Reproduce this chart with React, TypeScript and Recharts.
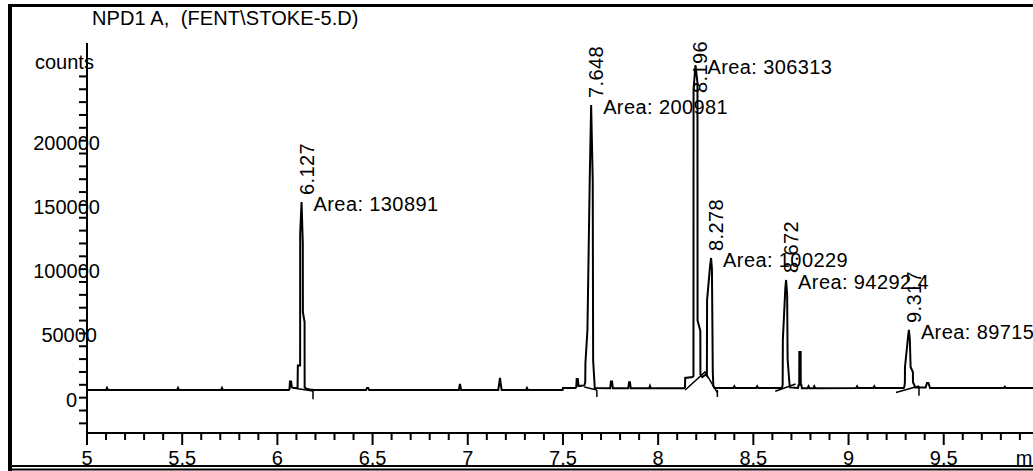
import { ComposedChart, Line, Scatter, XAxis, YAxis } from "recharts";

const FONT = "'Liberation Sans', Arial, sans-serif";
const PLOT_TOP = 43;
const PLOT_LEFT = 87;

// detector trace, [time (min), counts]
const trace: Array<[number, number]> = [
  [5.0, 6000],
  [5.1, 6000], [5.105, 7600], [5.11, 6000],
  [5.473, 6000], [5.478, 7600], [5.483, 6000],
  [5.704, 6000], [5.709, 7600], [5.714, 6000],
  [6.06, 6000], [6.064, 6800], [6.066, 12500], [6.072, 12500], [6.076, 8000], [6.085, 7500],
  [6.106, 7500], [6.1075, 25000], [6.1195, 25000], [6.1198, 128000], [6.127, 152300], [6.1335, 120000],
  [6.134, 66600], [6.1428, 58900], [6.1432, 8000], [6.152, 7000], [6.17, 6300], [6.195, 6000],
  [6.466, 6000], [6.471, 7600], [6.477, 7600], [6.482, 6000],
  [6.953, 6000], [6.959, 10600], [6.965, 6000],
  [7.16, 6000], [7.165, 11000], [7.169, 15300], [7.173, 11000], [7.178, 6000],
  [7.306, 6000], [7.311, 7500], [7.316, 6000],
  [7.498, 6000], [7.5, 7500], [7.566, 7500], [7.57, 8500], [7.572, 14500], [7.578, 14500], [7.582, 9000],
  [7.612, 9500], [7.617, 12000], [7.618, 27000], [7.6285, 52500], [7.6406, 169000], [7.648, 227800],
  [7.6564, 169000], [7.6585, 29000], [7.6653, 12000], [7.667, 7500],
  [7.748, 7300], [7.752, 12500], [7.758, 12500], [7.762, 7300],
  [7.843, 7300], [7.847, 12000], [7.852, 12000], [7.856, 7300],
  [7.953, 7300], [7.957, 9000], [7.961, 7300],
  [8.136, 7300], [8.141, 8000], [8.142, 15300], [8.18, 16000], [8.1855, 17000], [8.186, 240000],
  [8.196, 258800], [8.2065, 245000], [8.207, 60000], [8.2215, 52000], [8.222, 18000], [8.232, 16000],
  [8.25, 18000], [8.256, 17000], [8.257, 75900], [8.273, 103000], [8.278, 108700], [8.2825, 100000],
  [8.287, 20000], [8.29, 9000], [8.296, 7500],
  [8.395, 7500], [8.4, 8800], [8.405, 7500],
  [8.515, 7500], [8.52, 8800], [8.525, 7500],
  [8.65, 7500], [8.654, 10000], [8.655, 45000], [8.668, 85000], [8.672, 91600], [8.6775, 80000],
  [8.68, 30000], [8.689, 12000], [8.692, 8000],
  [8.735, 7500], [8.738, 10000], [8.741, 10000], [8.7415, 35600], [8.7485, 35600], [8.749, 10000],
  [8.752, 10000], [8.755, 7300],
  [8.785, 7300], [8.79, 8800], [8.795, 7300], [8.815, 7300], [8.82, 8800], [8.825, 7300],
  [9.04, 7500], [9.045, 8800], [9.05, 7500], [9.13, 7500], [9.135, 8800], [9.14, 7500],
  [9.29, 7500], [9.294, 9000], [9.296, 12200], [9.2965, 23900], [9.311, 45000], [9.317, 52700],
  [9.322, 45000], [9.326, 23900], [9.338, 20000], [9.3385, 12000], [9.345, 10000], [9.35, 8000],
  [9.405, 8000], [9.412, 11400], [9.42, 11400], [9.428, 7500],
  [9.816, 7500], [9.821, 8500], [9.826, 7500],
  [10.2, 7500],
];

// integration baselines and peak end markers
const baselines: Array<Array<[number, number]>> = [
  [[6.082, 7500], [6.187, 5200]],
  [[6.187, 6000], [6.187, -1200]],
  [[7.612, 8300], [7.678, 6000]],
  [[7.678, 6000], [7.678, 500]],
  [[8.142, 6000], [8.246, 20000], [8.311, 4000]],
  [[8.311, 6000], [8.311, 500]],
  [[8.615, 5000], [8.722, 10600]],
  [[9.249, 4000], [9.37, 9000]],
  [[9.37, 9000], [9.37, 1500]],
];

const peakTimes = [6.127, 7.648, 8.196, 8.278, 8.672, 9.317];
const peakHeights = [152300, 227800, 258800, 108700, 91600, 52700];
const peakAreas = ["130891", "200981", "306313", "100229", "94292.4", "89715"];

const xTicks = [
  5, 5.1, 5.2, 5.3, 5.4, 5.5, 5.6, 5.7, 5.8, 5.9,
  6, 6.1, 6.2, 6.3, 6.4, 6.5, 6.6, 6.7, 6.8, 6.9,
  7, 7.1, 7.2, 7.3, 7.4, 7.5, 7.6, 7.7, 7.8, 7.9,
  8, 8.1, 8.2, 8.3, 8.4, 8.5, 8.6, 8.7, 8.8, 8.9,
  9, 9.1, 9.2, 9.3, 9.4, 9.5, 9.6, 9.7, 9.8, 9.9, 10,
];
const xLabels = [5, 5.5, 6, 6.5, 7, 7.5, 8, 8.5, 9, 9.5];

const yTicks = [
  -20000, -10000, 0, 10000, 20000, 30000, 40000, 50000, 60000, 70000, 80000, 90000, 100000,
  110000, 120000, 130000, 140000, 150000, 160000, 170000, 180000, 190000, 200000,
  210000, 220000, 230000, 240000, 250000,
];
const yLabels = [0, 50000, 100000, 150000, 200000];

const traceData = trace.map(([t, v]) => ({ t, v }));
const peakData = peakTimes.map((t, i) => ({ t, v: peakHeights[i], rt: t.toFixed(3), area: `Area: ${peakAreas[i]}` }));

function XTick({ x, y, payload }: any) {
  const value = payload.value;
  const major = xLabels.includes(value);
  return (
    <g>
      <line x1={x} x2={x} y1={y} y2={y + (major ? 12 : 7)} stroke="#000" strokeWidth={2} />
      {major ? (
        <text x={x} y={y + 32} textAnchor="middle" fontSize={20} fontFamily={FONT} fill="#000">
          {value}
        </text>
      ) : null}
      {value === 10 ? (
        <text x={x - 7} y={y + 32} textAnchor="middle" fontSize={20} fontFamily={FONT} fill="#000">
          min
        </text>
      ) : null}
    </g>
  );
}

// y ticks: x arrives as the axis edge (tickSize/tickMargin are 0)
function YTick({ x, y, payload }: any) {
  const value = payload.value;
  const shift = value === 0 ? -10 : value < 100000 ? 10 : 13;
  return (
    <g>
      <line x1={x - 8} x2={x} y1={y} y2={y} stroke="#000" strokeWidth={2} />
      {yLabels.includes(value) ? (
        <text x={x + shift} y={y + 9} textAnchor="end" fontSize={20} fontFamily={FONT} fill="#000">
          {value}
        </text>
      ) : null}
    </g>
  );
}

function PeakLabel({ cx, cy, payload }: any) {
  const bottom = Math.max(cy - 7, PLOT_TOP + 50);
  return (
    <g fontSize={20} fontFamily={FONT} fill="#000" letterSpacing={0.4}>
      <text transform={`translate(${cx + 12},${bottom}) rotate(-90)`}>{payload.rt}</text>
      <text x={cx + 12} y={cy + 9}>{payload.area}</text>
    </g>
  );
}

export default function App() {
  return (
    <div style={{ position: "absolute", left: 0, top: 0, width: 1033, height: 471, overflow: "hidden", background: "#fff" }}>
      <ComposedChart width={1077} height={471} margin={{ top: PLOT_TOP, right: 0, bottom: 8, left: PLOT_LEFT - 60 }}>
        <XAxis
          dataKey="t"
          type="number"
          domain={[5, 10.2]}
          allowDataOverflow
          ticks={xTicks}
          interval={0}
          tick={<XTick />}
          tickLine={false}
          tickSize={0}
          tickMargin={0}
          height={30}
          axisLine={{ stroke: "#000", strokeWidth: 2 }}
        />
        <YAxis
          type="number"
          domain={[-27500, 276000]}
          ticks={yTicks}
          interval={0}
          tick={<YTick />}
          tickLine={false}
          tickSize={0}
          tickMargin={0}
          width={60}
          axisLine={{ stroke: "#000", strokeWidth: 2 }}
        />
        <Line data={traceData} dataKey="v" type="linear" stroke="#000" strokeWidth={2} dot={false} isAnimationActive={false} />
        {baselines.map((seg, i) => (
          <Line
            key={i}
            data={seg.map(([t, v]) => ({ t, v }))}
            dataKey="v"
            type="linear"
            stroke="#000"
            strokeWidth={1.5}
            dot={false}
            isAnimationActive={false}
          />
        ))}
        <Scatter data={peakData} dataKey="v" shape={<PeakLabel />} isAnimationActive={false} />
      </ComposedChart>
      <svg width={1033} height={471} style={{ position: "absolute", left: 0, top: 0, pointerEvents: "none" }}>
        <rect x={8} y={4} width={4} height={467} fill="#000" />
        <rect x={8} y={4} width={1025} height={3} fill="#000" />
        <rect x={8} y={465} width={1025} height={2} fill="#000" />
        <rect x={8} y={468.5} width={1025} height={2} fill="#000" />
        <text x={92} y={25} fontSize={20} fontFamily={FONT} letterSpacing={0.1} style={{ whiteSpace: "pre" }}>
          {"NPD1 A,  (FENT\\STOKE-5.D)"}
        </text>
        <text x={35} y={69} fontSize={20} fontFamily={FONT}>
          counts
        </text>
      </svg>
    </div>
  );
}
